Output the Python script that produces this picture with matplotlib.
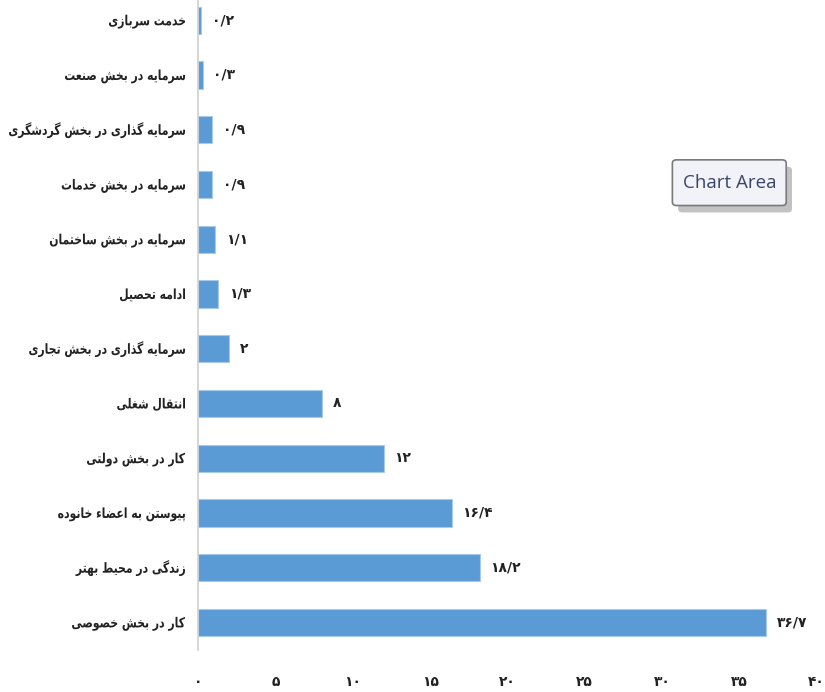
import matplotlib
matplotlib.use("Agg")
import matplotlib.pyplot as plt
from matplotlib.patches import FancyBboxPatch, PathPatch
from matplotlib.textpath import TextPath
from matplotlib.font_manager import FontProperties
from matplotlib.transforms import Affine2D

# categories, top to bottom as in the chart
labels = [
    "خدمت سربازی",
    "سرمایه در بخش صنعت",
    "سرمایه گذاری در بخش گردشگری",
    "سرمایه در بخش خدمات",
    "سرمایه در بخش ساختمان",
    "ادامه تحصیل",
    "سرمایه گذاری در بخش تجاری",
    "انتقال شغلی",
    "کار در بخش دولتی",
    "پیوستن به اعضاء خانوده",
    "زندگی در محیط بهتر",
    "کار در بخش خصوصی",
]
values = [0.2, 0.3, 0.9, 0.9, 1.1, 1.3, 2, 8, 12, 16.4, 18.2, 36.7]
xticks = [0, 5, 10, 15, 20, 25, 30, 35, 40]

# presentation forms: iso, fin, ini, med (right-joining letters only have two)
FORMS = {
    "ا": ("\uFE8D", "\uFE8E"), "آ": ("\uFE81", "\uFE82"),
    "د": ("\uFEA9", "\uFEAA"), "ذ": ("\uFEAB", "\uFEAC"),
    "ر": ("\uFEAD", "\uFEAE"), "ز": ("\uFEAF", "\uFEB0"),
    "ژ": ("\uFB8A", "\uFB8B"), "و": ("\uFEED", "\uFEEE"),
    "ب": ("\uFE8F", "\uFE90", "\uFE91", "\uFE92"),
    "پ": ("\uFB56", "\uFB57", "\uFB58", "\uFB59"),
    "ت": ("\uFE95", "\uFE96", "\uFE97", "\uFE98"),
    "ث": ("\uFE99", "\uFE9A", "\uFE9B", "\uFE9C"),
    "ج": ("\uFE9D", "\uFE9E", "\uFE9F", "\uFEA0"),
    "چ": ("\uFB7A", "\uFB7B", "\uFB7C", "\uFB7D"),
    "ح": ("\uFEA1", "\uFEA2", "\uFEA3", "\uFEA4"),
    "خ": ("\uFEA5", "\uFEA6", "\uFEA7", "\uFEA8"),
    "س": ("\uFEB1", "\uFEB2", "\uFEB3", "\uFEB4"),
    "ش": ("\uFEB5", "\uFEB6", "\uFEB7", "\uFEB8"),
    "ص": ("\uFEB9", "\uFEBA", "\uFEBB", "\uFEBC"),
    "ض": ("\uFEBD", "\uFEBE", "\uFEBF", "\uFEC0"),
    "ط": ("\uFEC1", "\uFEC2", "\uFEC3", "\uFEC4"),
    "ظ": ("\uFEC5", "\uFEC6", "\uFEC7", "\uFEC8"),
    "ع": ("\uFEC9", "\uFECA", "\uFECB", "\uFECC"),
    "غ": ("\uFECD", "\uFECE", "\uFECF", "\uFED0"),
    "ف": ("\uFED1", "\uFED2", "\uFED3", "\uFED4"),
    "ق": ("\uFED5", "\uFED6", "\uFED7", "\uFED8"),
    "ک": ("\uFB8E", "\uFB8F", "\uFB90", "\uFB91"),
    "گ": ("\uFB92", "\uFB93", "\uFB94", "\uFB95"),
    "ل": ("\uFEDD", "\uFEDE", "\uFEDF", "\uFEE0"),
    "م": ("\uFEE1", "\uFEE2", "\uFEE3", "\uFEE4"),
    "ن": ("\uFEE5", "\uFEE6", "\uFEE7", "\uFEE8"),
    "ه": ("\uFEE9", "\uFEEA", "\uFEEB", "\uFEEC"),
    "ی": ("\uFBFC", "\uFBFD", "\uFBFE", "\uFBFF"),
}


def shape(text):
    out = []
    for i, c in enumerate(text):
        if c not in FORMS:
            out.append(c)
            continue
        prev = text[i - 1] if i > 0 else ""
        nxt = text[i + 1] if i + 1 < len(text) else ""
        dual = len(FORMS[c]) == 4
        jp = prev in FORMS and len(FORMS[prev]) == 4
        jn = dual and nxt in FORMS
        if jp and jn:
            out.append(FORMS[c][3])
        elif jp:
            out.append(FORMS[c][1])
        elif jn:
            out.append(FORMS[c][2])
        else:
            out.append(FORMS[c][0])
    return "".join(out)[::-1]


def fa_num(v):
    s = str(int(v)) if float(v).is_integer() else f"{v:.1f}"
    return s.translate(str.maketrans("0123456789.", "۰۱۲۳۴۵۶۷۸۹/"))


plt.rcParams['font.family'] = ['DejaVu Sans']

fig = plt.figure(figsize=(8.25, 6.92), dpi=100)
ax = fig.add_axes([0.24, 0.061, 0.75, 0.939])

y = list(range(len(labels)))
ax.barh(y, values, height=0.5, color='#5b9bd5', edgecolor='#a9c9ea', linewidth=0.8)
ax.set_ylim(len(labels) - 0.5, -0.37)
ax.set_xlim(0, 40)

for yi, v in zip(y, values):
    ax.text(v + 0.7, yi, fa_num(v), va='center', ha='left', fontsize=10,
            fontweight='bold', color='#222222')

ax.set_yticks(y)
ax.set_yticklabels([])
ax.set_xticks(xticks)
ax.set_xticklabels([fa_num(t) for t in xticks], fontsize=10, fontweight='bold', color='#222222')
ax.tick_params(axis='both', length=0)
ax.tick_params(axis='x', pad=18)

for s in ['top', 'right', 'bottom']:
    ax.spines[s].set_visible(False)
ax.spines['left'].set_color('#d0d0d0')
ax.spines['left'].set_linewidth(1.2)

# category labels: narrow bold text, right aligned next to the axis
fp = FontProperties(family='DejaVu Sans', weight='bold', size=10)
k = fig.dpi / 72.0
for yi, lab in zip(y, labels):
    tp = TextPath((0, 0), shape(lab), prop=fp)
    ext = tp.get_extents()
    xd, yd = ax.transData.transform((0, yi))
    tr = (Affine2D().translate(-ext.x1, -3.6).scale(0.78 * k, k)
          + Affine2D().translate(xd - 13, yd))
    fig.add_artist(PathPatch(tp, transform=tr, facecolor='#222222', edgecolor='none'))

# "Chart Area" tooltip
shadow = FancyBboxPatch((0.822, 0.693), 0.138, 0.066, boxstyle="round,pad=0,rounding_size=0.005",
                        transform=fig.transFigure, facecolor='#9a9a9a', edgecolor='none', alpha=0.6)
box = FancyBboxPatch((0.815, 0.703), 0.138, 0.066, boxstyle="round,pad=0,rounding_size=0.005",
                     transform=fig.transFigure, facecolor='#f2f3f8', edgecolor='#7a7a7a', linewidth=1.2)
fig.patches.extend([shadow, box])
fig.text(0.884, 0.736, "Chart Area", ha='center', va='center', fontsize=13.5,
         family='Open Sans', color='#3b4566')

fig.savefig("out.png", dpi=100)
